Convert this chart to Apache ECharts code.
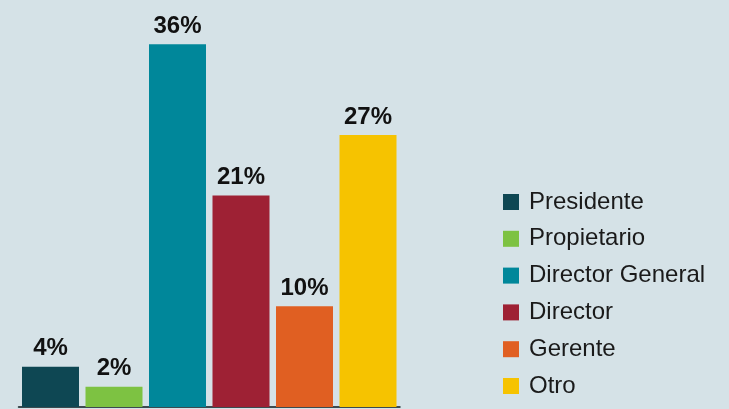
<!DOCTYPE html>
<html>
<head>
<meta charset="utf-8">
<script src="https://cdn.jsdelivr.net/npm/echarts@6/dist/echarts.min.js"></script>
<style>
html,body{margin:0;padding:0;background:#d5e2e7;}
#c{width:729px;height:409px;}
</style>
</head>
<body>
<div id="c"></div>
<script>
const categories = ['Presidente','Propietario','Director General','Director','Gerente','Otro'];
const values = [4, 2, 36, 21, 10, 27];
const colors = ['#0e4753','#7dc242','#00879a','#9e2134','#e05f22','#f6c300'];

const chart = echarts.init(document.getElementById('c'), null, {renderer:'canvas'});
const series = categories.map((name, i) => ({
  name: name,
  type: 'bar',
  stack: 'all',
  barWidth: 57,
  itemStyle: {color: colors[i]},
  data: categories.map((c, j) => j === i ? values[i] : '-'),
  label: {
    show: true,
    position: 'top',
    distance: 6,
    formatter: '{c}%',
    fontFamily: 'Liberation Sans, Arial, sans-serif',
    fontWeight: 'bold',
    fontSize: 24,
    color: '#111'
  }
}));
chart.setOption({
  backgroundColor: '#d5e2e7',
  animation: false,
  grid: {left: 18.75, width: 381, top: 4, height: 403},
  xAxis: {
    type: 'category',
    data: categories,
    axisLine: {show: true, lineStyle: {color: '#3c4a4f', width: 2}},
    axisTick: {show: false},
    axisLabel: {show: false}
  },
  yAxis: {
    type: 'value',
    min: 0, max: 40,
    show: false,
    splitLine: {show: false}
  },
  legend: {
    orient: 'vertical',
    left: 503,
    top: 190,
    padding: 0,
    itemWidth: 16,
    itemHeight: 16,
    itemGap: 12.8,
    icon: 'rect',
    data: categories,
    textStyle: {
      fontFamily: 'Liberation Sans, Arial, sans-serif',
      fontSize: 24,
      lineHeight: 24,
      color: '#1a1a1a',
      padding: [0, 0, 0, 5]
    }
  },
  series: series
});
</script>
</body>
</html>
